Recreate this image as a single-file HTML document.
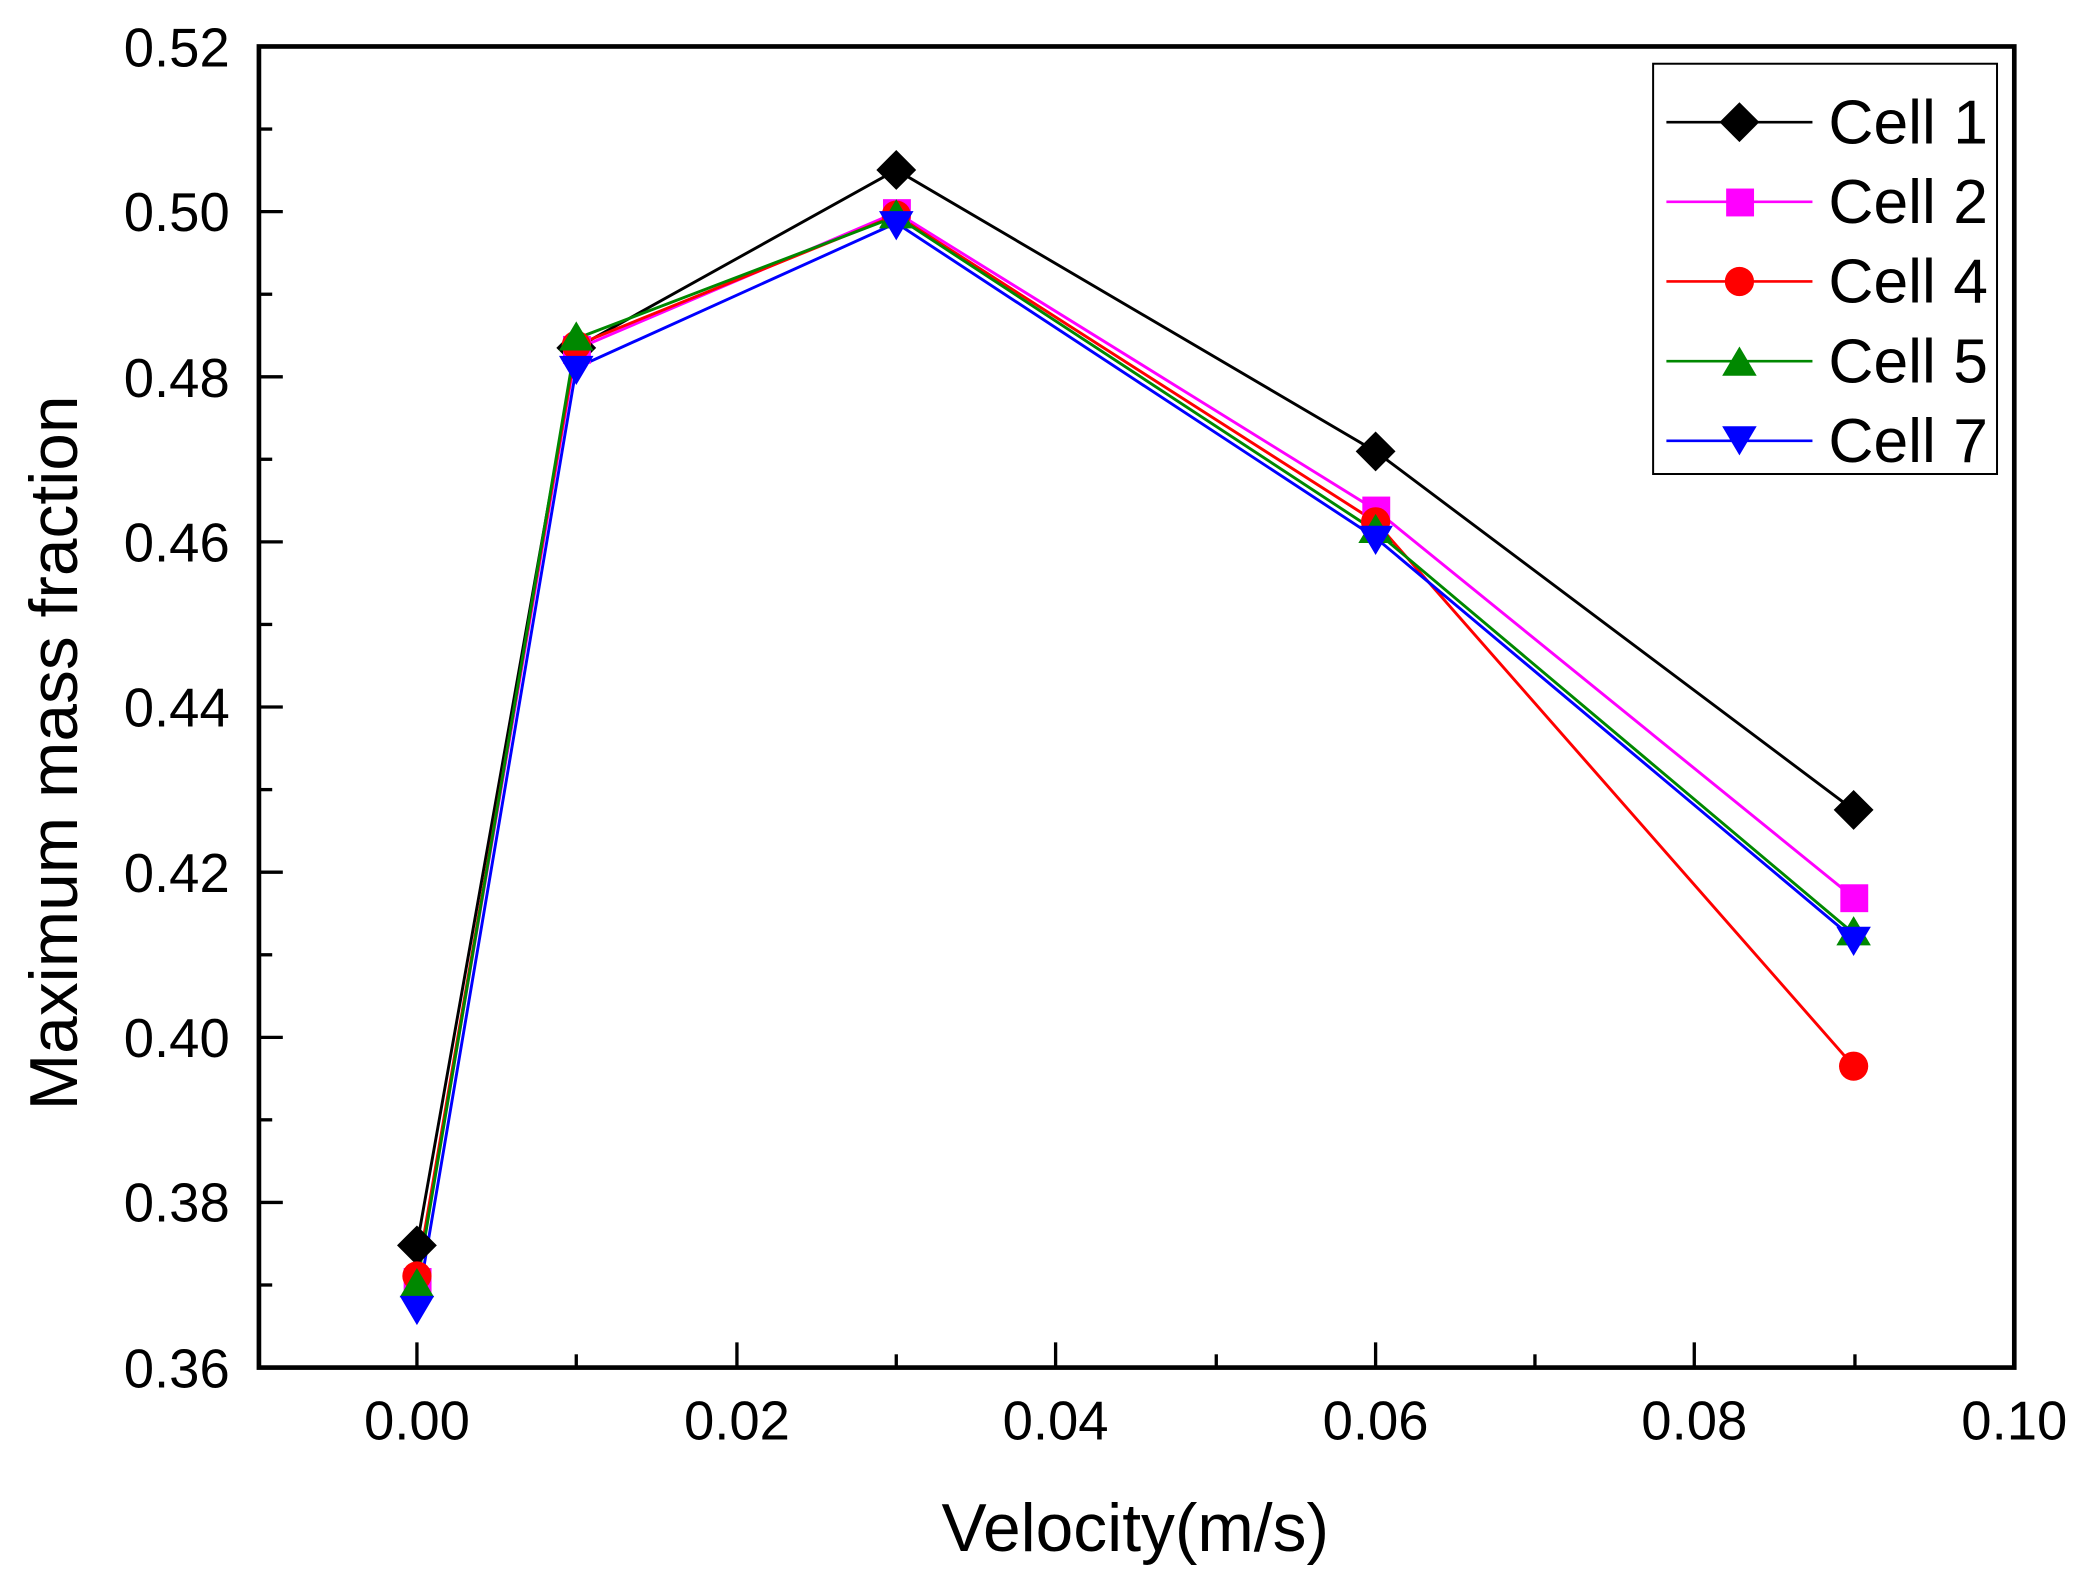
<!DOCTYPE html>
<html><head><style>html,body{margin:0;padding:0;background:#fff}svg{display:block}</style></head>
<body>
<svg width="2082" height="1584" viewBox="0 0 1568 1193" preserveAspectRatio="none" xmlns="http://www.w3.org/2000/svg" font-family="Liberation Sans, Arial, sans-serif">
<rect width="1568" height="1193" fill="#fff"/>
<g stroke="#000" stroke-width="2.5">
<line x1="195" y1="1030" x2="213" y2="1030"/><line x1="195" y1="967.8" x2="205" y2="967.8"/>
<line x1="195" y1="905.6" x2="213" y2="905.6"/><line x1="195" y1="843.4" x2="205" y2="843.4"/>
<line x1="195" y1="781.3" x2="213" y2="781.3"/><line x1="195" y1="719.1" x2="205" y2="719.1"/>
<line x1="195" y1="656.9" x2="213" y2="656.9"/><line x1="195" y1="594.7" x2="205" y2="594.7"/>
<line x1="195" y1="532.5" x2="213" y2="532.5"/><line x1="195" y1="470.3" x2="205" y2="470.3"/>
<line x1="195" y1="408.1" x2="213" y2="408.1"/><line x1="195" y1="345.9" x2="205" y2="345.9"/>
<line x1="195" y1="283.8" x2="213" y2="283.8"/><line x1="195" y1="221.6" x2="205" y2="221.6"/>
<line x1="195" y1="159.4" x2="213" y2="159.4"/><line x1="195" y1="97.2" x2="205" y2="97.2"/>
<line x1="314" y1="1030" x2="314" y2="1011"/><line x1="434" y1="1030" x2="434" y2="1020"/>
<line x1="555" y1="1030" x2="555" y2="1011"/><line x1="675" y1="1030" x2="675" y2="1020"/>
<line x1="795" y1="1030" x2="795" y2="1011"/><line x1="916" y1="1030" x2="916" y2="1020"/>
<line x1="1036" y1="1030" x2="1036" y2="1011"/><line x1="1156" y1="1030" x2="1156" y2="1020"/>
<line x1="1276" y1="1030" x2="1276" y2="1011"/><line x1="1397" y1="1030" x2="1397" y2="1020"/>
</g>
<rect x="195" y="35" width="1322" height="995" fill="none" stroke="#000" stroke-width="3.5"/>
<g font-size="41" text-anchor="end">
<text x="173" y="1045">0.36</text><text x="173" y="920">0.38</text><text x="173" y="796">0.40</text>
<text x="173" y="672">0.42</text><text x="173" y="547">0.44</text><text x="173" y="423">0.46</text>
<text x="173" y="299">0.48</text><text x="173" y="174">0.50</text><text x="173" y="50">0.52</text>
</g>
<g font-size="41" text-anchor="middle">
<text x="314" y="1084">0.00</text><text x="555" y="1084">0.02</text><text x="795" y="1084">0.04</text>
<text x="1036" y="1084">0.06</text><text x="1276" y="1084">0.08</text><text x="1517" y="1084">0.10</text>
</g>
<text x="855" y="1168" font-size="51" text-anchor="middle">Velocity(m/s)</text>
<text transform="translate(58,567) rotate(-90)" font-size="51" text-anchor="middle">Maximum mass fraction</text>
<g fill="none" stroke-width="2.2">
<polyline stroke="#000" points="314,938 434,262 675,128 1036,340 1396,610"/>
<polyline stroke="#f0f" points="314,965 434,263 675,160 1036,384 1396,676"/>
<polyline stroke="#f00" points="314,961 434,260 675,162 1036,393 1396,803"/>
<polyline stroke="#080" points="314,968 434,255 675,163 1036,400 1396,703"/>
<polyline stroke="#00f" points="314,985 434,277 675,168 1036,405 1396,707"/>
</g>
<g fill="#000"><path d="M314,923l15,15l-15,15l-15,-15z M434,247l15,15l-15,15l-15,-15z M675,113l15,15l-15,15l-15,-15z M1036,325l15,15l-15,15l-15,-15z M1396,595l15,15l-15,15l-15,-15z"/></g>
<g fill="#f0f"><rect x="304" y="955" width="21" height="21"/><rect x="424" y="253" width="21" height="21"/><rect x="665" y="150" width="21" height="21"/><rect x="1026" y="374" width="21" height="21"/><rect x="1386" y="666" width="21" height="21"/></g>
<g fill="#f00"><circle cx="314" cy="961" r="11"/><circle cx="434" cy="260" r="11"/><circle cx="675" cy="162" r="11"/><circle cx="1036" cy="393" r="11"/><circle cx="1396" cy="803" r="11"/></g>
<g fill="#080"><path d="M314,955l13,22h-26z M434,242l13,22h-26z M675,150l13,22h-26z M1036,387l13,22h-26z M1396,690l13,22h-26z"/></g>
<g fill="#00f"><path d="M314,998l13,-22h-26z M434,290l13,-22h-26z M675,181l13,-22h-26z M1036,418l13,-22h-26z M1396,720l13,-22h-26z"/></g>
<rect x="1245" y="48" width="259" height="309" fill="#fff" stroke="#000" stroke-width="1.5"/>
<g stroke-width="2"><line x1="1255" y1="92" x2="1365" y2="92" stroke="#000"/><line x1="1255" y1="152" x2="1365" y2="152" stroke="#f0f"/><line x1="1255" y1="212" x2="1365" y2="212" stroke="#f00"/><line x1="1255" y1="272" x2="1365" y2="272" stroke="#080"/><line x1="1255" y1="332" x2="1365" y2="332" stroke="#00f"/></g>
<path d="M1310,77l15,15l-15,15l-15,-15z" fill="#000"/>
<rect x="1300" y="142" width="21" height="21" fill="#f0f"/>
<circle cx="1310" cy="212" r="11" fill="#f00"/>
<path d="M1310,261l13,22h-26z" fill="#080"/>
<path d="M1310,343l13,-22h-26z" fill="#00f"/>
<g font-size="47"><text x="1377" y="108">Cell 1</text><text x="1377" y="168">Cell 2</text><text x="1377" y="228">Cell 4</text><text x="1377" y="288">Cell 5</text><text x="1377" y="348">Cell 7</text></g>
</svg>
</body></html>
